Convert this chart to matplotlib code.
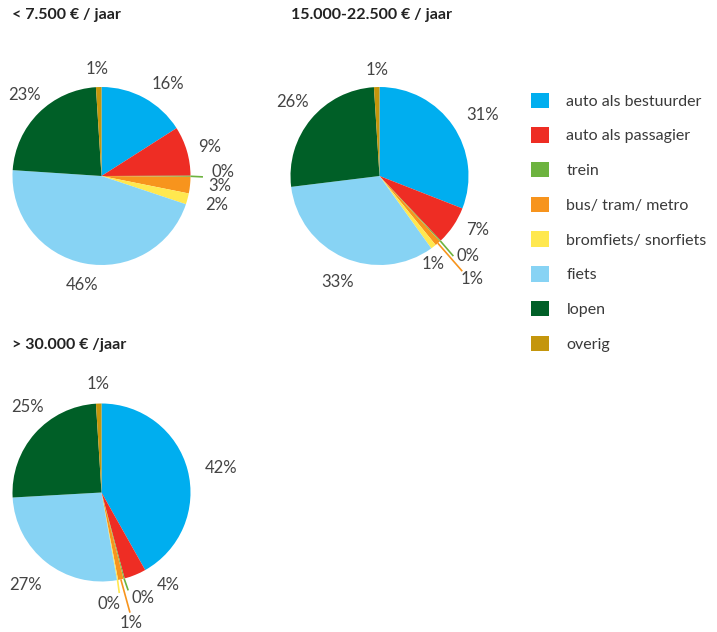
import matplotlib
matplotlib.use("Agg")
import numpy as np
import matplotlib.pyplot as plt
from matplotlib.patches import Patch

plt.rcParams['font.family'] = ['Lato', 'DejaVu Sans']

# --- data ---
categories = ["auto als bestuurder", "auto als passagier", "trein", "bus/ tram/ metro",
              "bromfiets/ snorfiets", "fiets", "lopen", "overig"]
titles = ["< 7.500 € / jaar", "15.000-22.500 € / jaar", "> 30.000 € /jaar"]
share_low = [16, 9, 0.2, 3, 2, 46, 23, 1]
share_mid = [31, 7, 0.2, 1, 1, 33, 26, 1]
share_high = [42, 4, 0.2, 1, 0.2, 27, 25, 1]

colors = ["#00aeef", "#ee2d24", "#6db33f", "#f7941d",
          "#ffe84f", "#87d3f4", "#005f27", "#c4960c"]

W, H = 717, 632
R_PX = 89

# label positions in pie-radius units, one per category
label_pos = [
    [(0.75, 1.03), (1.21, 0.33), (1.36, 0.05), (1.33, -0.11),
     (1.29, -0.33), (-0.22, -1.23), (-0.86, 0.91), (-0.05, 1.20)],
    [(1.16, 0.69), (1.10, -0.61), (0.99, -0.90), (1.04, -1.16),
     (0.60, -0.99), (-0.47, -1.19), (-0.98, 0.83), (-0.03, 1.19)],
    [(1.34, 0.27), (0.75, -1.04), (0.47, -1.18), (0.33, -1.47),
     (0.08, -1.25), (-0.85, -1.04), (-0.83, 0.96), (-0.04, 1.22)],
]
# leader line end points for the tiny slices
leaders = [
    {2: (1.14, -0.01)},
    {2: (0.83, -0.90), 3: (0.93, -1.07)},
    {2: (0.30, -1.10), 3: (0.32, -1.35), 4: (0.20, -1.13)},
]
centers = [(101.5, 176), (379.5, 176), (101.5, 492.5)]
title_pos = [(12, 15), (291, 15), (12, 345)]

fig = plt.figure(figsize=(W / 100, H / 100), dpi=100)

for k, vals in enumerate([share_low, share_mid, share_high]):
    cx, cy = centers[k]
    half = 1.7
    size = 2 * half * R_PX
    ax = fig.add_axes([(cx - half * R_PX) / W, (H - cy - half * R_PX) / H, size / W, size / H])
    wedges, _ = ax.pie(vals, colors=colors, startangle=90, counterclock=False,
                       radius=1, wedgeprops=dict(linewidth=0))
    ax.set_xlim(-half, half)
    ax.set_ylim(-half, half)
    ax.set_aspect('equal')
    ax.axis('off')
    for i, (w, v) in enumerate(zip(wedges, vals)):
        lx, ly = label_pos[k][i]
        ax.text(lx, ly, f"{v:.0f}%", ha='center', va='center', fontsize=12,
                color='#444444')
        if i in leaders[k]:
            mid = np.deg2rad((w.theta1 + w.theta2) / 2)
            ex, ey = leaders[k][i]
            ax.plot([np.cos(mid), ex], [np.sin(mid), ey], color=colors[i], lw=1.2,
                    solid_capstyle='butt')
    tx, ty = title_pos[k]
    fig.text(tx / W, 1 - ty / H, titles[k], ha='left', va='center', fontsize=11.5,
             fontweight='bold', color='#222222')

handles = [Patch(facecolor=c, edgecolor='none') for c in colors]
fig.legend(handles, categories, loc='upper left', bbox_to_anchor=(531 / W, 1 - 92.5 / H),
           frameon=False, fontsize=11.5, handlelength=1.12, handleheight=1.12,
           handletextpad=1.1, labelspacing=1.16, borderpad=0, borderaxespad=0,
           labelcolor='#3a3a3a')

fig.savefig("out.png", dpi=100)
